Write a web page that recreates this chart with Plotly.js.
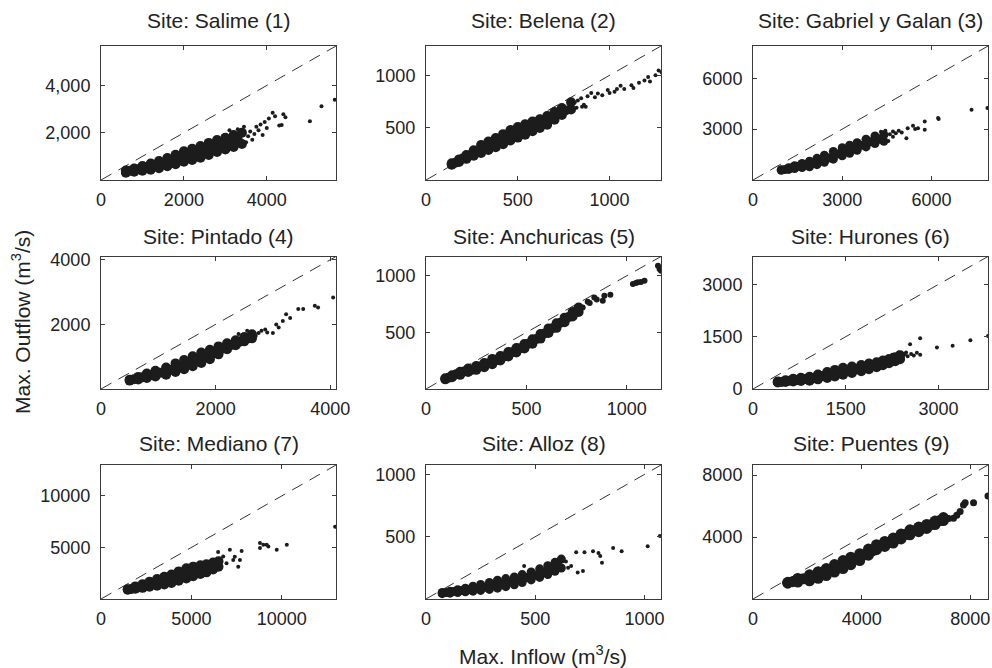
<!DOCTYPE html>
<html><head><meta charset="utf-8">
<script src="https://cdn.plot.ly/plotly-3.0.1.min.js"></script>
<style>html,body{margin:0;padding:0;background:#fff}#chart{width:992px;height:668px}</style>
</head><body><div id="chart"></div>
<script>
// ---------- titles & ticks ----------
const siteTitles = ["Site: Salime (1)","Site: Belena (2)","Site: Gabriel y Galan (3)",
  "Site: Pintado (4)","Site: Anchuricas (5)","Site: Hurones (6)",
  "Site: Mediano (7)","Site: Alloz (8)","Site: Puentes (9)"];
const axisMax = [5670,1280,7900,4100,1170,3800,13000,1075,8650];
const xTickVals = [[0,2000,4000],[0,500,1000],[0,3000,6000],[0,2000,4000],[0,500,1000],[0,1500,3000],[0,5000,10000],[0,500,1000],[0,4000,8000]];
const xTickText = [["0","2000","4000"],["0","500","1000"],["0","3000","6000"],["0","2000","4000"],["0","500","1000"],["0","1500","3000"],["0","5000","10000"],["0","500","1000"],["0","4000","8000"]];
const yTickVals = [[2000,4000],[500,1000],[3000,6000],[2000,4000],[500,1000],[0,1500,3000],[5000,10000],[500,1000],[4000,8000]];
const yTickText = [["2,000","4,000"],["500","1000"],["3000","6000"],["2000","4000"],["500","1000"],["0","1500","3000"],["5000","10000"],["500","1000"],["4000","8000"]];
const xAxisTitle = "Max. Inflow (m<sup>3</sup>/s)";
const yAxisTitle = "Max. Outflow (m<sup>3</sup>/s)";

// ---------- data: (max inflow, max outflow) per site ----------
const salimeIn = [600,600,700,800,800,900,1000,1000,1100,1200,1200,1300,1400,1400,1500,1600,1600,1700,1800,1800,1900,2000,2000,2100,2200,2200,2300,2400,2400,2500,2600,2600,2700,2800,2800,2900,3000,3000,3100,3200,3200,3300,3400,3400];
const salimeOut = [310,400,390,350,490,460,395,595,530,435,695,610,500,800,700,580,930,810,670,1070,930,770,1220,1040,850,1320,1140,940,1440,1250,1060,1570,1380,1190,1690,1490,1290,1790,1600,1400,1900,1700,1520,2000];
const salimeSparseIn = [3100,3300,3450,3500,3550,3600,3650,3700,3750,3800,3850,3900,3950,4000,4050,4142,4200,4300,4360,4400,4450,5040,5320,5640];
const salimeSparseOut = [2100,2150,2250,1600,1850,2050,1700,1950,2250,2100,2350,1900,2450,2200,2600,2845,2700,2310,2330,2780,2650,2490,3125,3400];

const belenaIn = [140,140,160,180,180,200,220,220,240,260,260,280,300,300,320,340,340,360,380,380,400,420,420,440,460,460,480,500,500,520,540,540,560,580,580,600,620,620,640,660,660,680,700,700,720,740,740,760,790,790];
const belenaOut = [145,160,165,173,197,205,202,238,235,232,283,270,258,335,310,287,368,345,314,401,375,342,438,410,378,477,445,405,507,470,433,532,500,466,559,530,496,581,555,528,612,590,575,650,630,622,688,665,673,742];
const belenaSparseIn = [780,810,820,827,845,850,860,870,880,900,920,936,960,990,1000,1027,1040,1060,1080,1119,1130,1160,1190,1210,1220,1250,1267,1283];
const belenaSparseOut = [700,740,690,760,781,700,718,700,800,830,790,827,810,860,830,842,870,900,870,905,880,930,950,983,940,1000,1046,1030];

const gabrielIn = [950,950,1075,1200,1200,1325,1400,1400,1525,1650,1650,1775,1900,1900,2025,2150,2150,2275,2400,2400,2550,2700,2700,2850,3000,3000,3125,3250,3250,3375,3500,3500,3650,3800,3800,3950,4100,4100,4250,4400,4400];
const gabrielOut = [572,608,620,624,726,720,676,844,810,730,970,900,780,1103,990,904,1276,1140,1040,1460,1300,1230,1680,1540,1430,1900,1700,1580,2050,1860,1750,2200,2050,1950,2400,2250,2150,2600,2400,2280,2670];
const gabrielSparseIn = [4300,4450,4550,4600,4705,4705,4800,4900,5000,5157,5200,5379,5450,5547,5773,5773,6222,6240,7347,7880];
const gabrielSparseOut = [2850,2900,2300,2700,2855,2557,2750,2900,2800,2461,3050,3194,3000,3055,3451,2956,3653,3600,4148,4249];

const pintadoIn = [500,500,575,650,650,725,800,800,875,950,950,1025,1136,1136,1210,1300,1300,1375,1450,1450,1525,1600,1600,1675,1750,1750,1825,1900,1900,1975,2050,2050,2125,2200,2200,2275,2350,2350,2425,2500,2500,2575,2634,2634];
const pintadoOut = [260,290,300,296,374,360,344,476,430,388,562,500,440,662,590,528,792,700,614,896,790,704,1016,900,808,1132,1000,918,1212,1110,1072,1318,1250,1232,1418,1360,1352,1508,1460,1474,1606,1570,1567,1695];
const pintadoSparseIn = [2400,2550,2700,2750,2800,2865,2900,2999,3057,3100,3172,3230,3300,3441,3528,3730,3787,4050];
const pintadoSparseOut = [1700,1800,1650,1736,1800,1841,1750,1736,1999,1900,2103,2313,2200,2472,2472,2577,2524,2830];

const anchuricasIn = [96,96,113,130,130,150,170,170,190,210,210,230,250,250,270,290,290,310,330,330,350,370,370,390,410,410,430,450,450,470,490,490,510,530,530,550,570,570,590,610,610,630,650,650,670,690,690,710,730,730,745,760,760];
const anchuricasOut = [85,95,100,104,121,130,125,152,155,150,180,170,169,203,198,192,230,225,219,266,255,252,292,288,287,327,325,322,362,360,358,398,399,400,440,442,445,485,490,495,535,537,540,580,585,590,630,635,640,680,680,680,720];
const anchuricasSparseIn = [780,805,815,838,850,880,888,918,1030,1045,1055,1070,1088,1155,1163,1170];
const anchuricasSparseOut = [720,770,760,809,790,780,823,832,927,935,943,945,956,1088,1059,1045];

const huronesIn = [400,400,460,525,525,590,650,650,710,775,775,845,915,915,980,1050,1050,1125,1200,1200,1260,1325,1325,1390,1456,1456,1530,1600,1600,1675,1750,1750,1810,1875,1875,1940,1999,1999,2050,2100,2100,2150,2200,2200,2250,2300,2300,2378,2378];
const huronesOut = [188,212,200,202,253,235,216,294,260,228,323,285,240,353,310,277,418,370,316,484,410,362,548,460,410,607,520,458,647,570,510,690,610,565,730,665,626,767,710,684,816,760,740,860,810,798,912,852,965];
const huronesSparseIn = [2250,2350,2420,2450,2475,2500,2540,2557,2600,2650,2703,2703,2974,3228,3515,3800];
const huronesSparseOut = [980,1050,900,1000,1050,940,1285,1003,960,1040,1455,983,1192,1237,1398,1520];

const medianoIn = [1478,1478,1680,1900,1900,2100,2300,2300,2500,2683,2683,2880,3100,3100,3300,3500,3500,3700,3900,3900,4100,4300,4300,4500,4722,4722,4900,5100,5100,5300,5500,5500,5700,5833,5833,6000,6200,6200,6350,6500,6500];
const medianoOut = [895,935,980,996,1224,1150,1080,1440,1330,1183,1670,1500,1294,1936,1700,1404,2166,1880,1554,2376,2080,1780,2680,2330,1994,2977,2600,2210,3140,2770,2430,3270,2920,2585,3366,3100,2870,3530,3300,3130,3670];
const medianoSparseIn = [6478,6600,6759,6944,7128,7315,7400,7593,7685,7778,8794,8794,8980,9167,9259,9722,10278,12950];
const medianoSparseOut = [4549,3900,4121,3467,4775,3794,4100,3140,3794,4657,5431,4941,5268,5268,5105,4775,5268,7000];

const allozIn = [74,74,92,110,110,127,145,145,162,180,180,197,215,215,232,250,250,270,290,290,308,327,327,346,365,365,384,404,404,422,440,440,460,481,481,500,520,520,538,557,557,574,590,590,605,619,619];
const allozOut = [43,52,52,47,63,60,52,75,68,58,86,75,63,102,85,69,116,95,77,133,110,87,151,122,99,164,137,114,177,155,132,196,172,153,217,190,173,242,213,196,267,240,222,294,265,249,320];
const allozSparseIn = [449,640,650,664,687,694,718,725,764,789,797,805,856,895,1014,1070];
const allozSparseOut = [265,300,250,265,376,212,225,376,384,370,344,291,410,384,423,505];

const puentesIn = [1279,1279,1450,1650,1650,1850,2081,2081,2240,2400,2400,2550,2697,2697,2850,3000,3000,3150,3313,3313,3450,3600,3600,3760,3929,3929,4090,4250,4250,4400,4545,4545,4700,4850,4850,5000,5161,5161,5300,5450,5450,5600,5777,5777,5940,6100,6100,6250,6393,6393,6550,6700,6700,6850,7009,7009];
const puentesOut = [1020,1080,1120,1096,1324,1300,1174,1560,1450,1340,1760,1620,1516,1963,1860,1740,2220,2080,1963,2479,2330,2212,2698,2570,2479,2925,2850,2830,3220,3100,3182,3506,3440,3396,3714,3660,3611,3930,3900,3876,4194,4160,4145,4468,4400,4348,4642,4580,4553,4811,4800,4806,5034,5050,5064,5257];
const puentesSparseIn = [7200,7379,7500,7625,7748,7810,8118,8650];
const puentesSparseOut = [5200,5218,5400,5642,6072,6215,6215,6650];

// ---------- assembly ----------
const coreIn = [salimeIn,belenaIn,gabrielIn,pintadoIn,anchuricasIn,huronesIn,medianoIn,allozIn,puentesIn];
const coreOut = [salimeOut,belenaOut,gabrielOut,pintadoOut,anchuricasOut,huronesOut,medianoOut,allozOut,puentesOut];
const sparseIn = [salimeSparseIn,belenaSparseIn,gabrielSparseIn,pintadoSparseIn,anchuricasSparseIn,huronesSparseIn,medianoSparseIn,allozSparseIn,puentesSparseIn];
const sparseOut = [salimeSparseOut,belenaSparseOut,gabrielSparseOut,pintadoSparseOut,anchuricasSparseOut,huronesSparseOut,medianoSparseOut,allozSparseOut,puentesSparseOut];

const W = 992, H = 668;
const colPx = [[101,336],[426,661],[753,988]];
const rowPx = [[46,180],[256.5,389],[465,599]];
const titleCenterPx = [20.5,236.5,443.5];
const coreSize = [10,10,9,10,10,10,10,9,11];
const sparseSize = [4,4,4,4,6,4,4,4,7];
const FONT = "Liberation Sans, Arial, Helvetica, sans-serif";
const INK = "#1c1c1c";

const traces = [];
const layout = {
  width: W, height: H, margin: {l:0,r:0,t:0,b:0},
  paper_bgcolor: "#fff", plot_bgcolor: "#fff", showlegend: false,
  font: {family: FONT, color: "#222"},
  annotations: []
};

for (let i = 0; i < 9; i++) {
  const r = Math.floor(i/3), c = i % 3;
  const sfx = i === 0 ? "" : String(i+1);
  const xa = "x" + sfx, ya = "y" + sfx;
  const m = axisMax[i];
  traces.push({type:"scatter", mode:"lines", x:[0,m], y:[0,m], xaxis:xa, yaxis:ya,
    line:{color:"#333", width:1, dash:"12px,8px"}, hoverinfo:"skip"});
  traces.push({type:"scatter", mode:"markers", x:coreIn[i], y:coreOut[i], xaxis:xa, yaxis:ya,
    marker:{color:INK, size:coreSize[i], line:{width:0}}});
  traces.push({type:"scatter", mode:"markers", x:sparseIn[i], y:sparseOut[i], xaxis:xa, yaxis:ya,
    marker:{color:INK, size:sparseSize[i], line:{width:0}}});
  const base = {showgrid:false, zeroline:false, showline:true, mirror:"ticks",
    linecolor:"#3a3a3a", linewidth:1, ticks:"inside", ticklen:4, tickcolor:"#3a3a3a",
    tickfont:{family:FONT, size:18, color:"#222"}, fixedrange:true, tickmode:"array"};
  layout["xaxis"+sfx] = Object.assign({}, base, {
    domain:[colPx[c][0]/W, colPx[c][1]/W], anchor: ya, range:[0,m],
    tickvals: xTickVals[i], ticktext: xTickText[i], ticklabelstandoff: 3});
  layout["yaxis"+sfx] = Object.assign({}, base, {
    domain:[1-rowPx[r][1]/H, 1-rowPx[r][0]/H], anchor: xa, range:[0,m],
    tickvals: yTickVals[i], ticktext: yTickText[i], ticklabelstandoff: 6});
  layout.annotations.push({text: siteTitles[i], xref:"paper", yref:"paper",
    x:(colPx[c][0]+colPx[c][1])/2/W, y:1-titleCenterPx[r]/H, xanchor:"center", yanchor:"middle",
    showarrow:false, font:{family:FONT, size:21, color:"#222"}});
}
layout.annotations.push({text: xAxisTitle, xref:"paper", yref:"paper", x:543/W, y:1-655/H,
  xanchor:"center", yanchor:"middle", showarrow:false, font:{family:FONT, size:21, color:"#222"}});
layout.annotations.push({text: yAxisTitle, xref:"paper", yref:"paper", x:21/W, y:1-322/H,
  xanchor:"center", yanchor:"middle", textangle:-90, showarrow:false, font:{family:FONT, size:21, color:"#222"}});

Plotly.newPlot("chart", traces, layout, {staticPlot:true, displayModeBar:false});
</script>
</body></html>
